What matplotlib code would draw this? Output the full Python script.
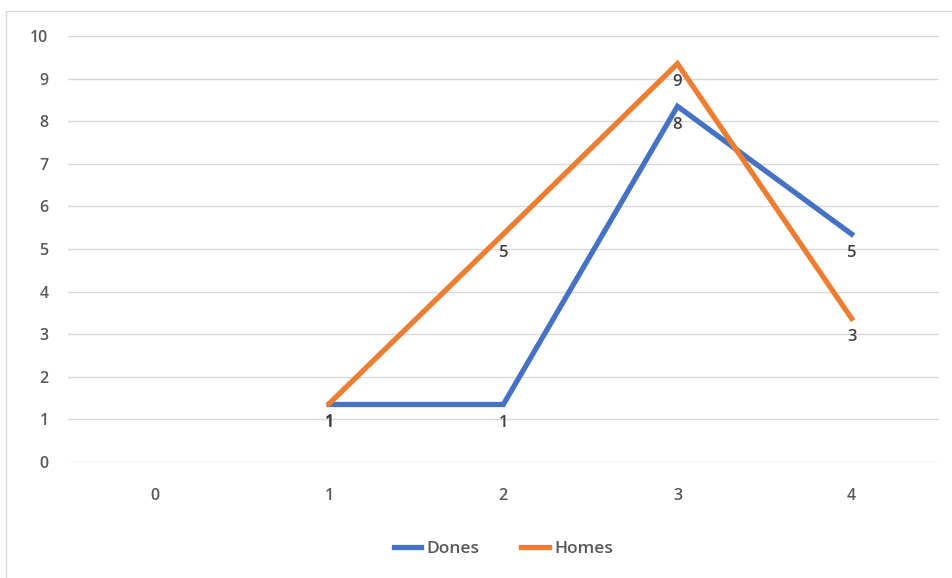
import numpy as np
import matplotlib.pyplot as plt
from matplotlib.lines import Line2D

categories = [0, 1, 2, 3, 4]
dones = [np.nan, 1.35, 1.35, 8.35, 5.35]
homes = [np.nan, 1.37, 5.35, 9.35, 3.37]

plt.rcParams['font.family'] = ['Open Sans', 'DejaVu Sans']

fig = plt.figure(figsize=(9.52, 5.78), dpi=100)
ax = fig.add_axes([0.0714, 0.2007, 0.9146, 0.737])

# chart frame: only top and left edges are visible in the crop
fig.lines.append(Line2D([0.0065, 1.0], [0.981, 0.981], transform=fig.transFigure,
                        color='#d9d9d9', linewidth=1))
fig.lines.append(Line2D([0.0065, 0.0065], [0.0, 0.981], transform=fig.transFigure,
                        color='#d9d9d9', linewidth=1))

x = np.arange(len(categories))
ax.plot(x, dones, color='#4472C4', linewidth=3.8, label='Dones', solid_joinstyle='miter')
ax.plot(x, homes, color='#ED7D31', linewidth=3.8, label='Homes', solid_joinstyle='miter')

# data labels below points
for series in (dones, homes):
    for xi, v in zip(x, series):
        if np.isnan(v):
            continue
        ax.annotate(f'{v:.0f}', (xi, v), xytext=(0, -13.5), textcoords='offset points',
                    ha='center', va='center', fontsize=12, color='#404040',
                    fontweight='semibold')

ax.set_xlim(-0.5, 4.5)
ax.set_ylim(0, 10)
ax.set_yticks(range(0, 11))
ax.set_xticks(x)
ax.set_xticklabels([str(c) for c in categories])
ax.grid(axis='y', color='#d9d9d9', linewidth=1)
ax.set_axisbelow(True)
for s in ax.spines.values():
    s.set_visible(False)
ax.tick_params(length=0, colors='#595959', labelsize=11.5)
ax.tick_params(axis='y', pad=14)
ax.tick_params(axis='x', pad=19)
for lbl in ax.get_xticklabels() + ax.get_yticklabels():
    lbl.set_fontweight('semibold')

leg = ax.legend(loc='center', bbox_to_anchor=(0.5, -0.205), ncol=2, frameon=False,
                fontsize=12.5, labelcolor='#595959', handlelength=1.6, handletextpad=0.3,
                columnspacing=2.4)
for t in leg.get_texts():
    t.set_fontweight('semibold')

fig.savefig('out.png', dpi=100)
